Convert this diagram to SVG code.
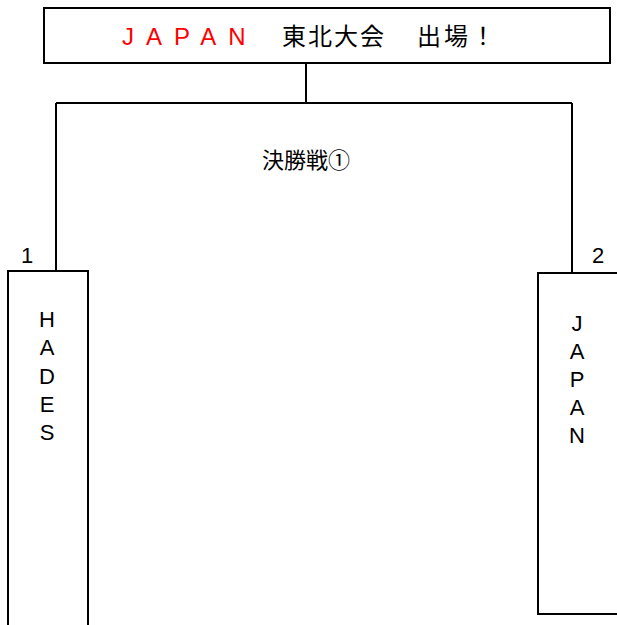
<svg xmlns="http://www.w3.org/2000/svg" width="617" height="625" viewBox="0 0 617 625">
<style>
.box{fill:#fff;stroke:#000;stroke-width:2}
.ln{fill:none;stroke:#000;stroke-width:2}
.t{font-family:"Liberation Sans","Noto Sans CJK JP",sans-serif;font-size:22px;fill:#000}
.h{font-family:"Liberation Sans","Noto Sans CJK JP",sans-serif;font-size:24px;fill:#000}
.v{font-family:"Liberation Sans","Noto Sans CJK JP",sans-serif;font-size:22px;fill:#000;text-anchor:middle}
</style>
<rect width="617" height="625" fill="#fff"/>
<g id="connectors">
<path class="ln" d="M306 63V103M56 103H572M56 103V271M572 103V273"/>
</g>
<g id="title">
<rect class="box" x="44" y="8" width="566" height="55"/>
<text class="h" y="45"><tspan x="122" fill="#ff0000" letter-spacing="12">JAPAN</tspan><tspan x="282" letter-spacing="2">東北大会</tspan><tspan x="417" letter-spacing="3">出場！</tspan></text>
</g>
<g id="final-label">
<text class="t" x="306" y="168" text-anchor="middle">決勝戦①</text>
</g>
<g id="team1">
<text class="t" x="21" y="263">1</text>
<rect class="box" x="8" y="271" width="80" height="370"/>
<text class="v" x="47" y="327">H</text>
<text class="v" x="47" y="355">A</text>
<text class="v" x="47" y="384">D</text>
<text class="v" x="47" y="412">E</text>
<text class="v" x="47" y="440">S</text>
</g>
<g id="team2">
<text class="t" x="592" y="263">2</text>
<rect class="box" x="538" y="273" width="90" height="341"/>
<text class="v" x="577" y="331">J</text>
<text class="v" x="577" y="359">A</text>
<text class="v" x="577" y="387">P</text>
<text class="v" x="577" y="415">A</text>
<text class="v" x="577" y="443">N</text>
</g>
</svg>
